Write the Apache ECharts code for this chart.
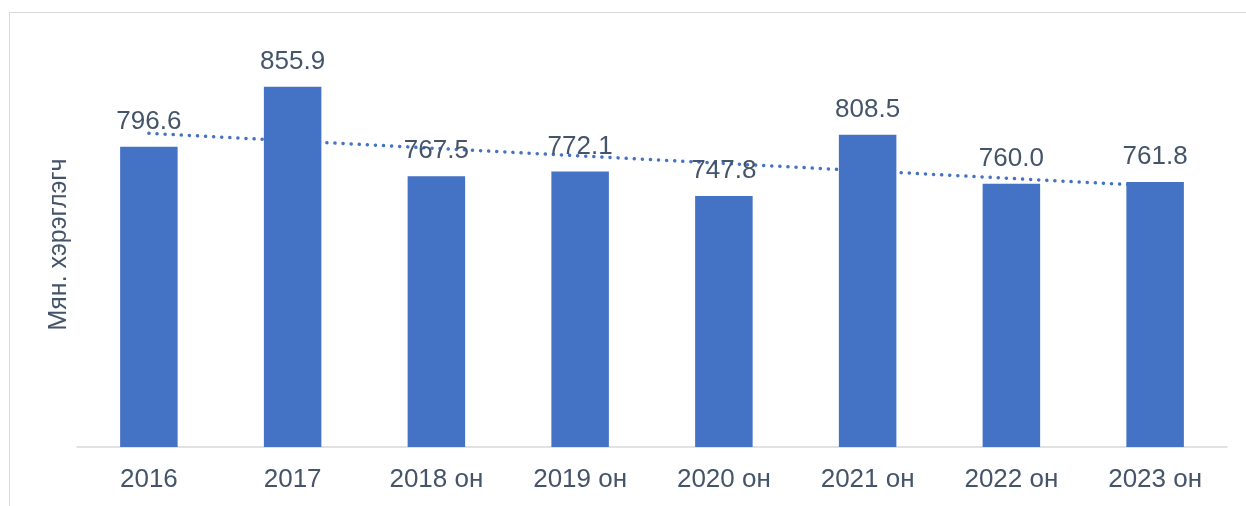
<!DOCTYPE html>
<html>
<head>
<meta charset="utf-8">
<script src="https://cdn.jsdelivr.net/npm/echarts@6/dist/echarts.min.js"></script>
<style>
  html, body { margin: 0; padding: 0; background: #fff; }
  #chart { width: 1246px; height: 506px; }
</style>
</head>
<body>
<div id="chart"></div>
<script>
// data
const years = ['2016', '2017', '2018 он', '2019 он', '2020 он', '2021 он', '2022 он', '2023 он'];
const users = [796.6, 855.9, 767.5, 772.1, 747.8, 808.5, 760.0, 761.8];
// dotted trend line: only its two ends
const trendEnds = [809.8, 757.8];

const textColor = '#44546a';
const barColor = '#4472c4';

const trendData = years.map((y, i) =>
  i === 0 ? trendEnds[0] : (i === years.length - 1 ? trendEnds[1] : null));

const chart = echarts.init(document.getElementById('chart'));
chart.setOption({
  backgroundColor: '#fff',
  animation: false,
  graphic: [{
    type: 'rect',
    shape: { x: 9.5, y: 12.5, width: 1300, height: 600 },
    style: { fill: 'none', stroke: '#d9d9d9', lineWidth: 1 },
    silent: true
  }],
  grid: { left: 77, right: 19, top: 42, bottom: 59 },
  xAxis: {
    type: 'category',
    data: years,
    axisLine: { lineStyle: { color: '#d9d9d9', width: 1.5 } },
    axisTick: { show: false },
    axisLabel: { color: textColor, fontSize: 26, fontFamily: 'Liberation Sans, Arial', margin: 20 }
  },
  yAxis: {
    type: 'value',
    min: 500,
    max: 900,
    splitLine: { show: false },
    axisLine: { show: false },
    axisTick: { show: false },
    axisLabel: { show: false },
    name: 'Мян. хэрэглэгч',
    nameLocation: 'middle',
    nameRotate: 90,
    nameGap: 5,
    nameTextStyle: { color: textColor, fontSize: 25, fontFamily: 'Liberation Sans, Arial' }
  },
  series: [{
    type: 'line',
    data: trendData,
    connectNulls: true,
    symbol: 'none',
    z: 1,
    lineStyle: { color: barColor, width: 3.5, type: [0.1, 8], cap: 'round' }
  }, {
    type: 'bar',
    data: users,
    barWidth: '40%',
    z: 2,
    itemStyle: { color: barColor },
    label: {
      show: true,
      position: 'top',
      distance: 12,
      color: textColor,
      fontSize: 26,
      fontFamily: 'Liberation Sans, Arial',
      formatter: p => p.value.toFixed(1)
    }
  }]
});
</script>
</body>
</html>
